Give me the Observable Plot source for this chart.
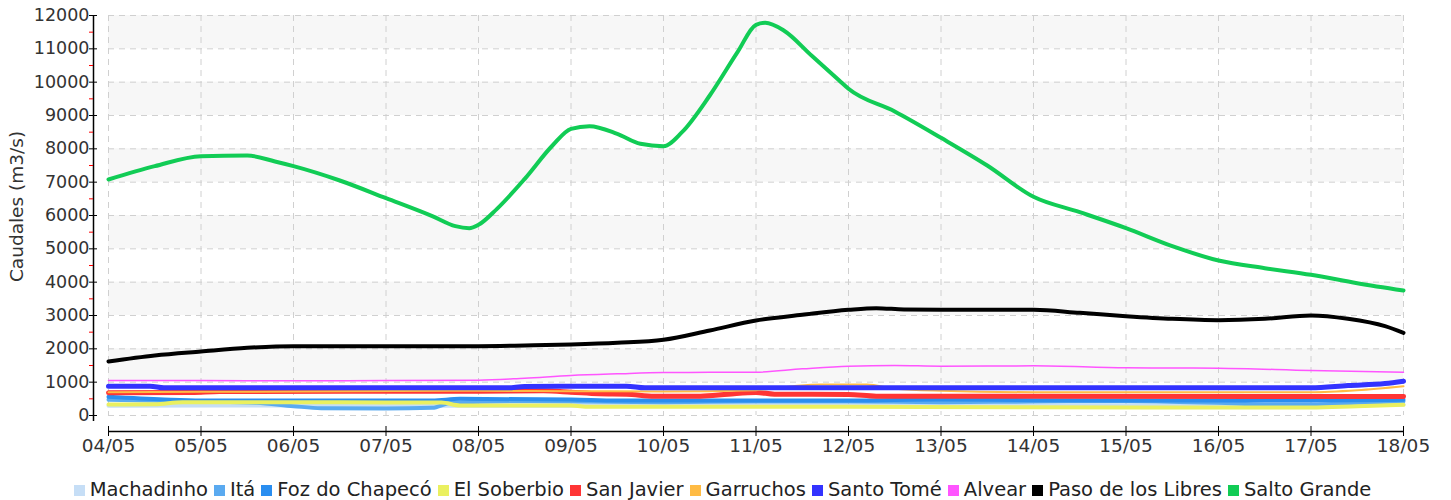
<!DOCTYPE html>
<html><head><meta charset="utf-8">
<script src="https://cdn.jsdelivr.net/npm/d3@7"></script>
<script src="https://cdn.jsdelivr.net/npm/@observablehq/plot@0.6"></script>
<style>
body{margin:0;background:#fff;font-family:"DejaVu Sans",Verdana,sans-serif;}
#legend{position:absolute;top:479px;left:0;width:1451px;display:flex;justify-content:center;font-size:19.5px;line-height:21px;color:#222;white-space:nowrap;}
.item{display:flex;align-items:baseline;margin-right:6px}
.sw{display:inline-block;width:11px;height:11px;margin-right:5px}
</style>
</head><body><div id="chart"></div><div id="legend"></div>
<script>
// ---- data (day offset from 04/05, m3/s) ----
const tickLabels = ["04/05","05/05","06/05","07/05","08/05","09/05","10/05","11/05","12/05","13/05","14/05","15/05","16/05","17/05","18/05"];
const yTicks = [0,1000,2000,3000,4000,5000,6000,7000,8000,9000,10000,11000,12000];
const yMinor = [500,1500,2500,3500,4500,5500,6500,7500,8500,9500,10500,11500];

const seriesNames = ["Machadinho","Itá","Foz do Chapecó","El Soberbio","San Javier","Garruchos","Santo Tomé","Alvear","Paso de los Libres","Salto Grande"];

const machadinho = [[0,290],[2,300],[4,290],[6,300],[8,300],[10,300],[12,290],[13,290],[14,330]];
const ita = [[0,470],[1,420],[1.6,380],[2,280],[2.3,220],[3,210],[3.5,230],[3.7,380],[4.5,430],[5,420],[6,400],[7,420],[8,420],[9,400],[10,420],[11,430],[12,380],[12.5,330],[13,330],[13.5,380],[14,430]];
const foz = [[0,560],[0.6,480],[1,450],[3.5,450],[3.8,500],[5,480],[5.5,450],[8,450],[9,480],[10,460],[12,450],[13,450],[14,470]];
const elSoberbio = [[0,330],[0.5,340],[0.8,400],[2,400],[3,390],[3.6,390],[3.8,300],[5,300],[5.2,260],[8,260],[10,250],[12,240],[13,240],[13.5,280],[14,320]];
const sanJavier = [[0,680],[0.9,690],[1.2,720],[4,730],[4.7,740],[5,700],[5.3,650],[5.6,640],[5.9,580],[6.4,580],[6.7,640],[7,690],[7.2,640],[8,630],[8.3,580],[14,570]];
const garruchos = [[0,700],[2,720],[4,740],[5,730],[6,720],[7,760],[7.4,880],[7.7,930],[8.2,930],[8.5,800],[9,740],[10,700],[13,700],[13.5,760],[14,880]];
const santoTome = [[0,880],[0.45,880],[0.6,830],[4.3,830],[4.5,870],[5,880],[5.6,880],[5.8,830],[13,830],[13.4,900],[13.8,960],[14,1030]];
const alvear = [[0,1050],[1,1050],[2,1040],[3,1050],[4,1060],[4.5,1120],[5,1200],[5.5,1250],[6,1290],[7,1300],[7.5,1400],[8,1480],[8.5,1500],[9,1480],[10,1490],[11,1430],[12,1420],[13,1350],[14,1300]];
const pasoLibres = [[0,1620],[0.5,1800],[1,1920],[1.5,2030],[2,2080],[4,2080],[4.5,2100],[5,2130],[5.5,2180],[6,2270],[6.5,2550],[7,2850],[7.5,3020],[8,3170],[8.3,3220],[8.6,3180],[9,3170],[10,3170],[10.5,3080],[11,2980],[11.5,2900],[12,2860],[12.5,2900],[13,3000],[13.4,2900],[13.8,2680],[14,2480]];
const saltoGrande = [[0,7080],[0.5,7480],[1,7780],[1.5,7800],[1.8,7620],[2,7480],[2.5,7050],[3,6520],[3.5,5980],[3.75,5680],[3.9,5620],[4,5720],[4.2,6200],[4.5,7100],[4.8,8100],[5,8600],[5.2,8680],[5.5,8450],[5.75,8150],[6,8080],[6.2,8500],[6.5,9600],[6.8,10900],[7,11720],[7.1,11780],[7.3,11550],[7.6,10800],[7.9,10050],[8,9800],[8.5,9120],[9,8330],[9.5,7500],[10,6560],[10.5,6100],[11,5620],[11.5,5080],[12,4650],[12.5,4420],[13,4220],[13.5,3970],[14,3750]];

const seriesData = [machadinho, ita, foz, elSoberbio, sanJavier, garruchos, santoTome, alvear, pasoLibres, saltoGrande];

// ---- styles ----
const seriesColors = ["#c6def6","#5aaaf0","#2a8ef0","#eaf060","#ff3535","#ffbb44","#3333ff","#ff55ff","#000000","#11cc55"];
const seriesWidths = [4,4,4,4,5,2,5,1.5,4,4];

const bands = [1000,3000,5000,7000,9000,11000];
const xTicks = tickLabels.map((_, i) => i);

const lineMarks = seriesData.map((s, i) =>
  Plot.line(s, {x: d => d[0], y: d => d[1], stroke: seriesColors[i], strokeWidth: seriesWidths[i], curve: "monotone-x", strokeLinejoin: "round", strokeLinecap: "round"})
);

const chart = Plot.plot({
  width: 1451, height: 462,
  marginLeft: 108, marginRight: 48, marginTop: 15, marginBottom: 47,
  style: {fontFamily: "DejaVu Sans, Verdana, sans-serif", fontSize: "17px", color: "#333", background: "#fff", overflow: "visible"},
  x: {domain: [0, 14], label: null},
  y: {domain: [0, 12000], label: null},
  marks: [
    Plot.rect(bands, {x1: 0, x2: 14, y1: d => d, y2: d => d + 1000, fill: "#f7f7f7"}),
    Plot.gridY(yTicks, {stroke: "#d0d0d0", strokeOpacity: 1, strokeDasharray: "6,5"}),
    Plot.gridX(xTicks, {stroke: "#d0d0d0", strokeOpacity: 1, strokeDasharray: "6,5"}),
    ...lineMarks,
    Plot.ruleX([0], {y1: -180, y2: 12000, dx: -15, stroke: "#000", strokeWidth: 1.5}),
    Plot.axisY(yMinor, {tickSize: 4, dx: -15, stroke: "red", tickFormat: () => "", label: null}),
    Plot.axisY(yTicks, {tickSize: 8, dx: -11, tickPadding: 0, stroke: "#000", tickFormat: d => String(d), fontSize: 17.5, label: null}),
    Plot.ruleY([0], {x1: 0, x2: 14, dy: 16, stroke: "#000", strokeWidth: 1.5}),
    Plot.axisX(xTicks, {tickSize: 10, dy: 11, tickPadding: 2, stroke: "#000", tickFormat: i => tickLabels[i], fontSize: 18.5, label: null}),
    Plot.text(["Caudales (m3/s)"], {frameAnchor: "left", rotate: -90, dx: -91, dy: -9, fontSize: 18.5, textAnchor: "middle", lineAnchor: "middle", fill: "#333"})
  ]
});
document.getElementById("chart").appendChild(chart);

const legend = document.getElementById("legend");
seriesNames.forEach((n, i) => {
  const it = document.createElement("span");
  it.className = "item";
  const sw = document.createElement("span");
  sw.className = "sw";
  sw.style.background = seriesColors[i];
  it.appendChild(sw);
  it.appendChild(document.createTextNode(n));
  legend.appendChild(it);
});
</script></body></html>
